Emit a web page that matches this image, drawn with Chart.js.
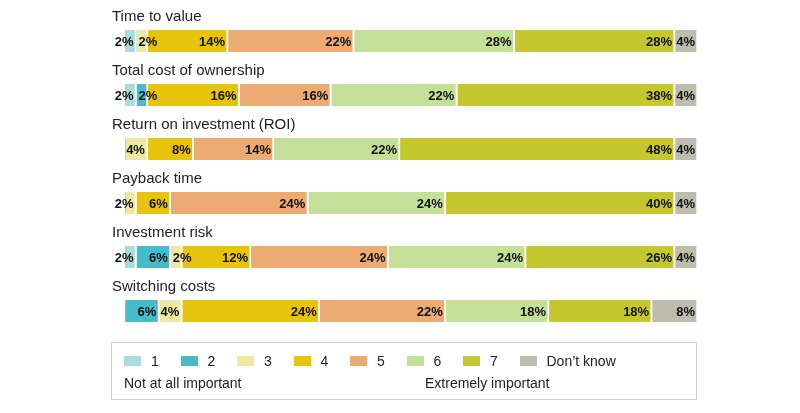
<!DOCTYPE html>
<html lang="en">
<head>
<meta charset="UTF-8">
<title>Importance of factors</title>
<script src="https://cdn.jsdelivr.net/npm/chart.js"></script>
<style>
    body { margin: 0; background: #fff; font-family: "Liberation Sans", Arial, sans-serif; }
    #wrap { position: relative; width: 800px; height: 413px; }
    #legend { position: absolute; left: 111px; top: 342px; width: 586px; height: 58px;
              border: 1px solid #cfcfcf; box-sizing: border-box; font-size: 14px; color: #222; }
    .item { position: absolute; top: 10px; }
    .sw { display: inline-block; width: 17px; height: 10px; margin-right: 10px; vertical-align: 0px; }
    .sub { position: absolute; top: 32px; }
</style>
</head>
<body>
<div id="wrap">
    <canvas id="grafico" width="800" height="413"></canvas>
    <div id="legend"></div>
</div>
<script>
    var categorias = ['Time to value', 'Total cost of ownership', 'Return on investment (ROI)', 'Payback time', 'Investment risk', 'Switching costs'];
    var series = ['1', '2', '3', '4', '5', '6', '7', 'Don\u2019t know'];
    var cores = ['#a9dcdc', '#46bccb', '#ede9a2', '#e8c30c', '#ebab72', '#c4df98', '#c5c72e', '#bdbdad'];
    var v1 = [2, 2, 0, 0, 2, 0];
    var v2 = [0, 2, 0, 0, 6, 6];
    var v3 = [2, 0, 4, 2, 2, 4];
    var v4 = [14, 16, 8, 6, 12, 24];
    var v5 = [22, 16, 14, 24, 24, 22];
    var v6 = [28, 22, 22, 24, 24, 18];
    var v7 = [28, 38, 48, 40, 26, 18];
    var vDK = [4, 4, 4, 4, 4, 8];
    var valores = [v1, v2, v3, v4, v5, v6, v7, vDK];

    // legenda em html
    var leg = document.getElementById('legend');
    for (var i = 0; i < series.length; i++) {
        var d = document.createElement('div');
        d.className = 'item';
        d.style.left = (12 + i * 56.5) + 'px';
        d.innerHTML = '<span class="sw" style="background:' + cores[i] + '"></span>' + series[i];
        leg.appendChild(d);
    }
    leg.innerHTML += '<div class="sub" style="left:12px">Not at all important</div>' +
                     '<div class="sub" style="left:313px">Extremely important</div>';

    var rotulos = {
        id: 'rotulos',
        afterDatasetsDraw: function (chart) {
            var ctx = chart.ctx;
            ctx.save();
            ctx.fillStyle = '#111';
            ctx.font = 'bold 13px "Liberation Sans", Arial, sans-serif';
            ctx.textBaseline = 'middle';
            var primeiro = categorias.map(function () { return true; });
            chart.data.datasets.forEach(function (ds, di) {
                chart.getDatasetMeta(di).data.forEach(function (bar, j) {
                    if (!ds.data[j]) return;
                    var ini = Math.min(bar.x, bar.base);
                    if (ds.data[j] <= 2 && !primeiro[j]) {
                        ctx.textAlign = 'left';
                        ctx.fillText(ds.data[j] + '%', ini + 2, bar.y + 1);
                    } else {
                        ctx.textAlign = 'right';
                        ctx.fillText(ds.data[j] + '%', bar.x - 3, bar.y + 1);
                    }
                    primeiro[j] = false;
                });
            });
            ctx.font = '15px "Liberation Sans", Arial, sans-serif';
            ctx.fillStyle = '#222';
            ctx.textAlign = 'left';
            var ys = chart.scales.y;
            categorias.forEach(function (c, j) {
                ctx.fillText(c, 112, ys.getPixelForValue(j) - 24);
            });
            ctx.restore();
        }
    };

    new Chart(document.getElementById('grafico'), {
        type: 'bar',
        data: {
            labels: categorias,
            datasets: valores.map(function (v, i) {
                return { label: series[i], data: v, backgroundColor: cores[i],
                         borderColor: '#fff', borderWidth: { left: 0, right: 2, top: 0, bottom: 0 },
                         borderSkipped: false, barThickness: 22 };
            })
        },
        options: {
            indexAxis: 'y',
            responsive: false,
            animation: false,
            layout: { padding: { left: 125, right: 102, top: 14, bottom: 75 } },
            plugins: { legend: { display: false }, tooltip: { enabled: false } },
            scales: {
                x: { stacked: true, min: 0, max: 100, display: false },
                y: { stacked: true, display: false }
            }
        },
        plugins: [rotulos]
    });
</script>
</body>
</html>
